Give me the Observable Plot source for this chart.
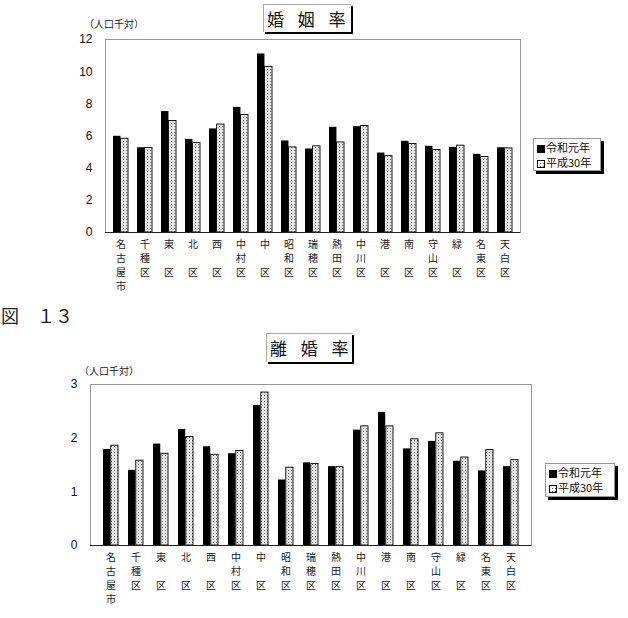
<!DOCTYPE html>
<html><head><meta charset="utf-8">
<script src="https://cdn.jsdelivr.net/npm/d3@7"></script>
<script src="https://cdn.jsdelivr.net/npm/@observablehq/plot@0.6"></script>
<style>
body{margin:0;background:#fff;font-family:"Noto Sans CJK JP",sans-serif;}
#wrap{position:relative;width:628px;height:618px;overflow:hidden;}
.abs{position:absolute;}
.title{border-top:1px solid #aaa;border-left:1px solid #aaa;box-shadow:2px 2px 0 #000;font-size:17px;letter-spacing:5px;line-height:28px;padding-left:3px;white-space:nowrap;color:#111;}
.unit{font-size:10px;color:#222;white-space:nowrap;}
.legend{border:1px solid #999;box-shadow:3px 3px 0 #000;background:#fff;font-size:11px;white-space:nowrap;color:#111;}
.legend div{position:absolute;left:3px;height:14px;line-height:14px;}
.legend svg{vertical-align:-1px;margin-right:1px;}
.fig{font-family:"DejaVu Serif","Noto Sans CJK JP",serif;font-size:18px;white-space:nowrap;color:#222;}
</style></head>
<body><div id="wrap"></div>
<script>
const districts = ["名古屋市","千種区","東区","北区","西区","中村区","中区","昭和区","瑞穂区","熱田区","中川区","港区","南区","守山区","緑区","名東区","天白区"];
const series = ["令和元年","平成30年"];
const marriageR1  = [5.98,5.27,7.52,5.79,6.44,7.78,11.1,5.69,5.19,6.54,6.58,4.94,5.67,5.36,5.29,4.86,5.27];
const marriageH30 = [5.83,5.26,6.93,5.56,6.71,7.31,10.3,5.29,5.36,5.60,6.62,4.75,5.50,5.13,5.40,4.69,5.23];
const divorceR1   = [1.79,1.40,1.89,2.16,1.84,1.71,2.61,1.22,1.54,1.47,2.15,2.48,1.80,1.94,1.57,1.39,1.47];
const divorceH30  = [1.86,1.58,1.71,2.02,1.69,1.76,2.85,1.45,1.52,1.46,2.22,2.22,1.98,2.09,1.64,1.78,1.59];
const marriageTicks = [0,2,4,6,8,10,12];
const divorceTicks = [0,1,2,3];

// vertical label: 2-char names get a blank middle row so 区 lines up
const vlabel = d => {
  const c = [...d];
  if (c.length === 2) return [c[0], "\u3000", c[1]].join("\n");
  return c.join("\n");
};

function chart({r1, h30, ticks, width, height, ml, mr, mt, mb, pi, po, pid}) {
  const rowsA = districts.map((d,i)=>({d, s: series[0], v: r1[i]}));
  const rowsB = districts.map((d,i)=>({d, s: series[1], v: h30[i]}));
  const step = (width-ml-mr)/(districts.length - pi + 2*po);
  const half = step*(1-pi)/2;
  const svg = Plot.plot({
    width, height, marginLeft: ml, marginRight: mr, marginTop: mt, marginBottom: mb,
    style: {fontFamily: "Noto Sans CJK JP, sans-serif", background: "transparent"},
    x: {domain: districts, paddingInner: pi, paddingOuter: po, label: null},
    y: {domain: [0, ticks[ticks.length-1]], label: null},
    marks: [
      Plot.frame({stroke: "#999"}),
      Plot.barY(rowsA, {x: "d", y: "v", fill: "#000", insetRight: half}),
      Plot.barY(rowsB, {x: "d", y: "v", fill: `url(#${pid})`, stroke: "#000", strokeWidth: 0.9, insetLeft: half}),
      Plot.ruleY([0], {stroke: "#222"}),
      Plot.axisX({tickSize: 0, tickPadding: 6, lineHeight: 1.4, fontSize: 10, fill: "#222",
        tickFormat: vlabel}),
      Plot.axisY({ticks, tickSize: 0, tickPadding: 13, fontSize: 12, fill: "#111",
        tickFormat: d3.format("d"),
        fontFamily: "Liberation Sans, Arial, sans-serif"})
    ]
  });
  const ns = "http://www.w3.org/2000/svg";
  const defs = document.createElementNS(ns, "defs");
  defs.innerHTML = `<pattern id="${pid}" width="3" height="3" patternUnits="userSpaceOnUse">
    <rect width="3" height="3" fill="#fff"/><rect x="0" y="0" width="1" height="1" fill="#555"/>
    <rect x="1.5" y="1.5" width="1" height="1" fill="#777"/></pattern>`;
  svg.insertBefore(defs, svg.firstChild);
  return svg;
}

const wrap = document.getElementById("wrap");
const top1 = chart({r1: marriageR1, h30: marriageH30, ticks: marriageTicks, width: 628, height: 300,
  ml: 105, mr: 108, mt: 39, mb: 68, pi: 0.38, po: 0.19, pid: "dotsA"});
top1.style.position = "absolute"; top1.style.left = "0px"; top1.style.top = "0px";
wrap.appendChild(top1);
const bot = chart({r1: divorceR1, h30: divorceH30, ticks: divorceTicks, width: 628, height: 298,
  ml: 90, mr: 97, mt: 64, mb: 73, pi: 0.4, po: 0.2, pid: "dotsB"});
bot.style.position = "absolute"; bot.style.left = "0px"; bot.style.top = "320px";
wrap.appendChild(bot);

function add(html, cls, left, top, w, h) {
  const el = document.createElement("div");
  el.className = "abs " + cls;
  el.style.left = left + "px"; el.style.top = top + "px";
  if (w) el.style.width = w + "px";
  if (h) el.style.height = h + "px";
  el.innerHTML = html;
  wrap.appendChild(el);
}
const swBlack = `<svg width="8" height="8"><rect width="8" height="8" fill="#000"/></svg>`;
const swDot = id => `<svg width="8" height="8"><defs><pattern id="${id}" width="3" height="3" patternUnits="userSpaceOnUse"><rect width="3" height="3" fill="#fff"/><rect width="1" height="1" fill="#555"/></pattern></defs><rect x="0.5" y="0.5" width="7" height="7" fill="url(#${id})" stroke="#000"/></svg>`;
const legendHtml = id => `<div style="top:1px">${swBlack}${series[0]}</div><div style="top:16px">${swDot(id)}${series[1]}</div>`;

add("婚 姻 率", "title", 263, 4, 84, 27);
add("（人口千対）", "unit", 84, 16);
add(legendHtml("lgA"), "legend", 533, 138, 66, 31);
add("図　１３", "fig", 1, 302);
add("離 婚 率", "title", 266, 333, 82, 28);
add("（人口千対）", "unit", 79, 363);
add(legendHtml("lgB"), "legend", 545, 463, 68, 32);
</script></body></html>
